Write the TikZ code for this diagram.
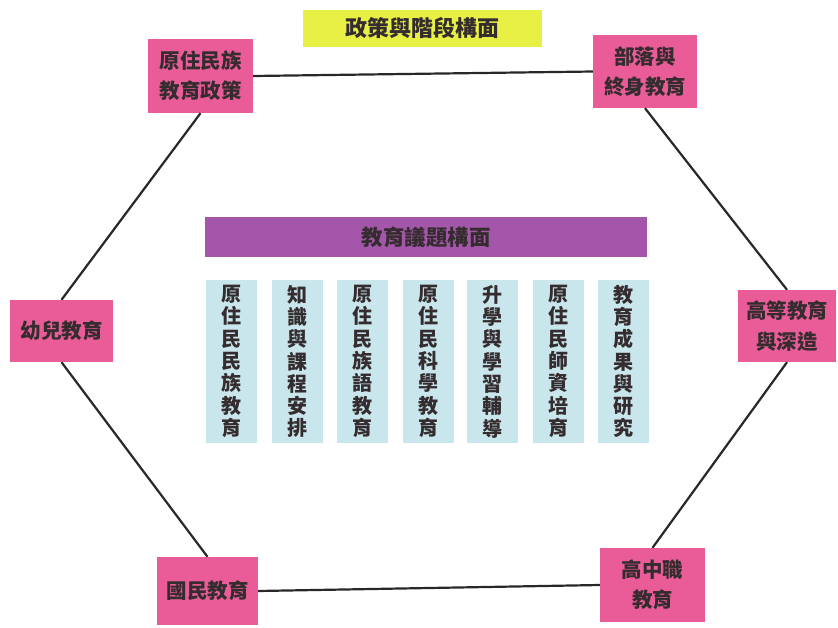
\documentclass[tikz,border=0pt]{standalone}
\usepackage{fontspec}
\newfontfamily\cjk{Noto Sans CJK TC}
\definecolor{pinkbox}{RGB}{234,92,152}
\definecolor{yellowbox}{RGB}{232,240,70}
\definecolor{purplebar}{RGB}{164,86,170}
\definecolor{bluecol}{RGB}{200,230,236}
\definecolor{inkc}{RGB}{52,44,46}
\definecolor{linec}{RGB}{40,40,40}
\begin{document}
\begin{tikzpicture}[x=1pt,y=-1pt,
  pinknode/.style={rectangle, fill=pinkbox, inner sep=0pt, align=center, text=inkc,
    font=\cjk\bfseries\fontsize{20.5}{30.5}\selectfont},
  colnode/.style={rectangle, fill=bluecol, inner sep=0pt, align=center, text=inkc,
    minimum width=51, minimum height=163,
    font=\cjk\bfseries\fontsize{20}{22.3}\selectfont},
  conn/.style={draw=linec, line width=2.2pt}]
\useasboundingbox (0,0) rectangle (838,627);
\fill[white] (0,0) rectangle (838,627);

% titles
\node[rectangle, fill=yellowbox, minimum width=239, minimum height=37, inner sep=0pt,
  text=inkc, font=\cjk\bfseries\fontsize{22}{26}\selectfont] (title1) at (422.5,28.5) {政策與階段構面};
\node[rectangle, fill=purplebar, minimum width=442, minimum height=40, inner sep=0pt,
  text=inkc, font=\cjk\bfseries\fontsize{21.5}{26}\selectfont] (title2) at (426,237) {教育議題構面};

% hexagon boxes
\node[pinknode, minimum width=105, minimum height=74] (tl) at (200.5,76) {原住民族\\教育政策};
\node[pinknode, minimum width=104, minimum height=73] (tr) at (645,71.5) {部落與\\終身教育};
\node[pinknode, minimum width=103, minimum height=62] (l) at (61.5,331) {幼兒教育};
\node[pinknode, minimum width=98, minimum height=72] (r) at (787,326) {高等教育\\與深造};
\node[pinknode, minimum width=101, minimum height=68] (bl) at (207.5,591) {國民教育};
\node[pinknode, minimum width=105, minimum height=74] (br) at (652.5,585) {高中職\\教育};

\draw[conn] (tl.east) -- (tr.west);
\draw[conn] (tl.south) -- (l.north);
\draw[conn] (tr.south) -- (r.north);
\draw[conn] (l.south) -- (bl.north);
\draw[conn] (r.south) -- (br.north);
\draw[conn] (bl.east) -- (br.west);

% issue columns
\node[colnode] (c1) at (231,361.5) {原\\住\\民\\民\\族\\教\\育};
\node[colnode] (c2) at (297.5,361.5) {知\\識\\與\\課\\程\\安\\排};
\node[colnode] (c3) at (362.5,361.5) {原\\住\\民\\族\\語\\教\\育};
\node[colnode] (c4) at (428,361.5) {原\\住\\民\\科\\學\\教\\育};
\node[colnode] (c5) at (492.5,361.5) {升\\學\\與\\學\\習\\輔\\導};
\node[colnode] (c6) at (558,361.5) {原\\住\\民\\師\\資\\培\\育};
\node[colnode] (c7) at (623,361.5) {教\\育\\成\\果\\與\\研\\究};
\end{tikzpicture}
\end{document}
